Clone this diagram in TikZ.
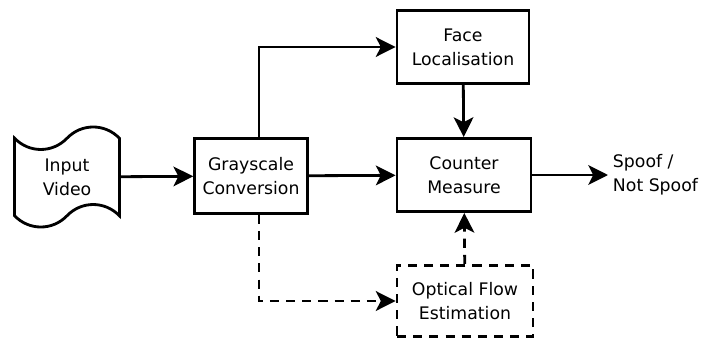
\documentclass[tikz,border=0pt]{standalone}
\usepackage{fontspec}
\setmainfont{DejaVu Sans}
\usetikzlibrary{positioning,shapes.symbols,arrows.meta}

\tikzset{
  blk/.style={draw, line width=2pt, align=center, minimum width=3.3cm, minimum height=1.83cm,
    font=\fontsize{12.3}{17}\selectfont},
  dblk/.style={blk, dash pattern=on 6.5pt off 5pt},
  flow/.style={line width=2pt, -{Stealth[length=14pt,width=14pt,inset=3.5pt]}},
  dflow/.style={flow, dash pattern=on 6.5pt off 5pt}
}

\begin{document}
\begin{tikzpicture}[x=0.025cm, y=-0.025cm]
  \useasboundingbox (0,0) rectangle (702,342);

  \node[blk, shape=tape, tape bend top=in and out, tape bend bottom=in and out,
        tape bend height=16pt, minimum width=2.62cm, minimum height=2.5cm] (video) at (67,177) {Input\\Video};
  \node[blk, minimum width=2.82cm, minimum height=1.87cm] (gray) at (251,176) {Grayscale\\Conversion};
  \node[blk] (face) at (463,47) {Face\\Localisation};
  \node[blk, minimum width=3.35cm] (counter) at (464,175) {Counter\\Measure};
  \node[dblk, minimum width=3.4cm, minimum height=1.78cm] (optical) at (465,301) {Optical Flow\\Estimation};
  \node[align=left, anchor=west, font=\fontsize{12.3}{17}\selectfont] (spoof) at (608,175) {Spoof /\\Not Spoof};

  \draw[flow] (video) -- (gray);
  \draw[flow] (gray) -- (counter);
  \draw[flow] ([xshift=0.2cm]gray.north) |- (face.west);
  \draw[flow] (face) -- (counter);
  \draw[flow] (counter) -- (spoof);
  \draw[dflow] ([xshift=0.2cm]gray.south) |- (optical.west);
  \draw[dflow] (optical) -- (counter);
\end{tikzpicture}
\end{document}
